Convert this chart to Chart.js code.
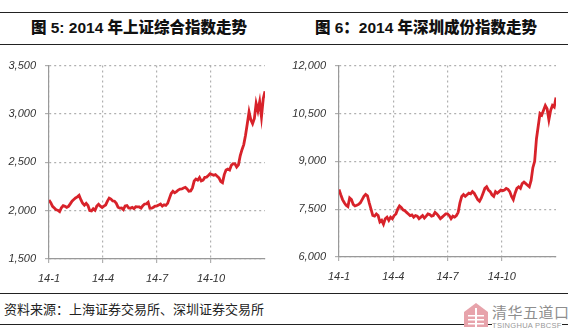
<!DOCTYPE html>
<html>
<head>
<meta charset="utf-8">
<script src="https://cdn.jsdelivr.net/npm/chart.js@4"></script>
<style>
  html, body { margin: 0; padding: 0; background: #fff; }
  body { width: 568px; height: 332px; position: relative; overflow: hidden; font-family: "Noto Sans CJK SC", sans-serif; }
  .rule { position: absolute; left: 0; width: 568px; height: 0; border-top: 1.5px solid #222; }
  .title { position: absolute; top: 17px; width: 284px; text-align: center; font-family: "Liberation Sans", "Noto Sans CJK SC", sans-serif; font-size: 15.5px; font-weight: 900; color: #111; line-height: 22px; }
  .box { position: absolute; top: 50px; height: 236px; }
  .source { position: absolute; left: 4px; top: 300px; font-size: 13px; color: #222; line-height: 18px; }
  .logo { position: absolute; left: 463px; top: 302px; width: 110px; height: 30px; }
  .logo .name { position: absolute; left: 29px; top: 1px; font-size: 15px; color: #8e8e8e; letter-spacing: 0.5px; line-height: 18px; white-space: nowrap; }
  .logo .en { position: absolute; left: 29px; top: 19px; font-family: "Liberation Sans", Arial, sans-serif; font-size: 7.5px; color: #999; letter-spacing: 0.3px; white-space: nowrap; background: #fff; line-height: 9px; }
</style>
</head>
<body>
<div class="rule" style="top:12px"></div>
<div class="rule" style="top:44px"></div>
<div class="title" style="left:-3px">图 5: 2014 年上证综合指数走势</div>
<div class="title" style="left:284px">图 6：2014 年深圳成份指数走势</div>

<div class="box" style="left:0;width:284px"><canvas id="shChart"></canvas></div>
<div class="box" style="left:284px;width:284px"><canvas id="szChart"></canvas></div>

<div class="rule" style="top:293px"></div>
<div class="rule" style="top:324px"></div>
<div class="source">资料来源：上海证券交易所、深圳证券交易所</div>
<div class="logo">
  <svg width="26" height="26" viewBox="0 0 26 26" style="position:absolute;left:0;top:0">
    <polygon points="13,1 25,10 25,25 1,25 1,10" fill="#e7a3ab"/>
    <rect x="5" y="13" width="16" height="1.5" fill="#fff"/>
    <rect x="5" y="17" width="16" height="1.5" fill="#fff"/>
    <rect x="5" y="21" width="16" height="1.5" fill="#fff"/>
    <rect x="12" y="6" width="2" height="19" fill="#fff"/>
  </svg>
  <div class="name">清华五道口</div>
  <div class="en">TSINGHUA PBCSF</div>
</div>

<script>
// Eje X: meses de 2014 (0 = 1 de enero, 12 = 31 de diciembre)
const tickPositions = [0, 3, 6, 9];
const tickLabels = ['14-1', '14-4', '14-7', '14-10'];

// 上证综合指数, aprox. cada 2 sesiones
const shValues = [
  2109, 2083, 2045, 2027, 2009, 2004, 1991, 2030, 2052, 2045, 2033,
  2044, 2070, 2098, 2115, 2131, 2142, 2158, 2113, 2076, 2056,
  2075, 2053, 2001, 1997, 2019, 2004, 2047, 2066, 2046, 2033,
  2047, 2059, 2098, 2130, 2120, 2101, 2098, 2076, 2036, 2026,
  2027, 2010, 2049, 2053, 2028, 2024, 2034, 2021, 2041, 2039,
  2038, 2026, 2052, 2069, 2071, 2087, 2024, 2025, 2035, 2048,
  2050, 2059, 2068, 2047, 2061, 2054, 2075, 2127, 2177, 2201,
  2185, 2197, 2213, 2223, 2225, 2234, 2240, 2224, 2200, 2204,
  2235, 2306, 2326, 2315, 2342, 2307, 2315, 2344, 2347, 2363,
  2382, 2374, 2366, 2373, 2356, 2339, 2302, 2290, 2373, 2420,
  2430, 2420, 2469, 2486, 2485, 2452, 2474, 2567, 2630, 2683,
  2779, 2899, 3021, 2940, 2900, 2953, 3108, 3032, 3127, 2970, 3157, 3234
];
const shTicks = [1500, 2000, 2500, 3000, 3500];

// 深圳成份指数
const szValues = [
  8114, 7950, 7800, 7700, 7620, 7580, 7850, 7800, 7650, 7600, 7620,
  7650, 7700, 7800, 7900, 7960, 7920, 7700, 7500, 7300, 7280,
  7350, 7300, 7100, 7150, 7030, 7200, 7250, 7150, 7250, 7200,
  7300, 7350, 7500, 7600, 7550, 7480, 7450, 7400, 7350, 7300,
  7320, 7250, 7300, 7280, 7200, 7250, 7300, 7220, 7280, 7350,
  7330, 7280, 7300, 7400, 7350, 7280, 7200, 7250, 7300, 7350,
  7350, 7300, 7200, 7280, 7250, 7300, 7400, 7700, 7900, 7960,
  7900, 7950, 8000, 7980, 8050, 8000, 7900, 7800, 7750, 7850,
  8000, 8150, 8200, 8100, 8050, 7950, 7900, 8050, 8000, 8050,
  8100, 8080, 8100, 8150, 8120, 8050, 7900, 7800, 8000, 8150,
  8200, 8150, 8300, 8350, 8300, 8250, 8200, 8400, 8800, 9000,
  9700, 10100, 10500, 10450, 10600, 10750, 10650, 10300, 10600, 10750, 10700, 11000
];
const szTicks = [6000, 7500, 9000, 10500, 12000];

function toPoints(values) {
    const n = values.length;
    return values.map(function(v, i) { return { x: i * 12 / (n - 1), y: v }; });
}

function makeChart(id, values, yTicks, yWidth, padRight, xHeight) {
    const ctx = document.getElementById(id);
    return new Chart(ctx, {
        type: 'line',
        data: {
            datasets: [{
                data: toPoints(values),
                borderColor: '#d8222a',
                borderWidth: 2.8,
                pointRadius: 0,
                tension: 0
            }]
        },
        options: {
            responsive: true,
            maintainAspectRatio: false,
            animation: false,
            layout: { padding: { top: 11, right: padRight, left: 0, bottom: 0 } },
            plugins: { legend: { display: false }, tooltip: { enabled: false } },
            scales: {
                x: {
                    type: 'linear',
                    min: 0,
                    max: 12,
                    afterBuildTicks: function(s) { s.ticks = tickPositions.map(function(v) { return { value: v }; }); },
                    afterFit: function(s) { s.height = xHeight; },
                    ticks: {
                        autoSkip: false,
                        maxRotation: 0,
                        padding: 9,
                        color: '#333',
                        font: { family: 'Liberation Sans', size: 11, style: 'italic' },
                        callback: function(v) { return tickLabels[tickPositions.indexOf(v)]; }
                    },
                    grid: { color: '#b0b0b0', lineWidth: 1.2, tickLength: 4 },
                    border: { display: true, color: '#999', width: 1.2, dash: [2, 3] }
                },
                y: {
                    min: yTicks[0],
                    max: yTicks[yTicks.length - 1],
                    afterBuildTicks: function(s) { s.ticks = yTicks.map(function(v) { return { value: v }; }); },
                    afterFit: function(s) { s.width = yWidth; },
                    ticks: {
                        padding: 9,
                        color: '#333',
                        font: { family: 'Liberation Sans', size: 11, style: 'italic' },
                        callback: function(v) { return v.toLocaleString('en-US'); }
                    },
                    grid: { color: '#b0b0b0', lineWidth: 1.2, tickLength: 4 },
                    border: { display: true, color: '#999', width: 1.2, dash: [2, 3] }
                }
            }
        }
    });
}

makeChart('shChart', shValues, shTicks, 49, 19, 27);
makeChart('szChart', szValues, szTicks, 55, 12, 29);
</script>
</body>
</html>
